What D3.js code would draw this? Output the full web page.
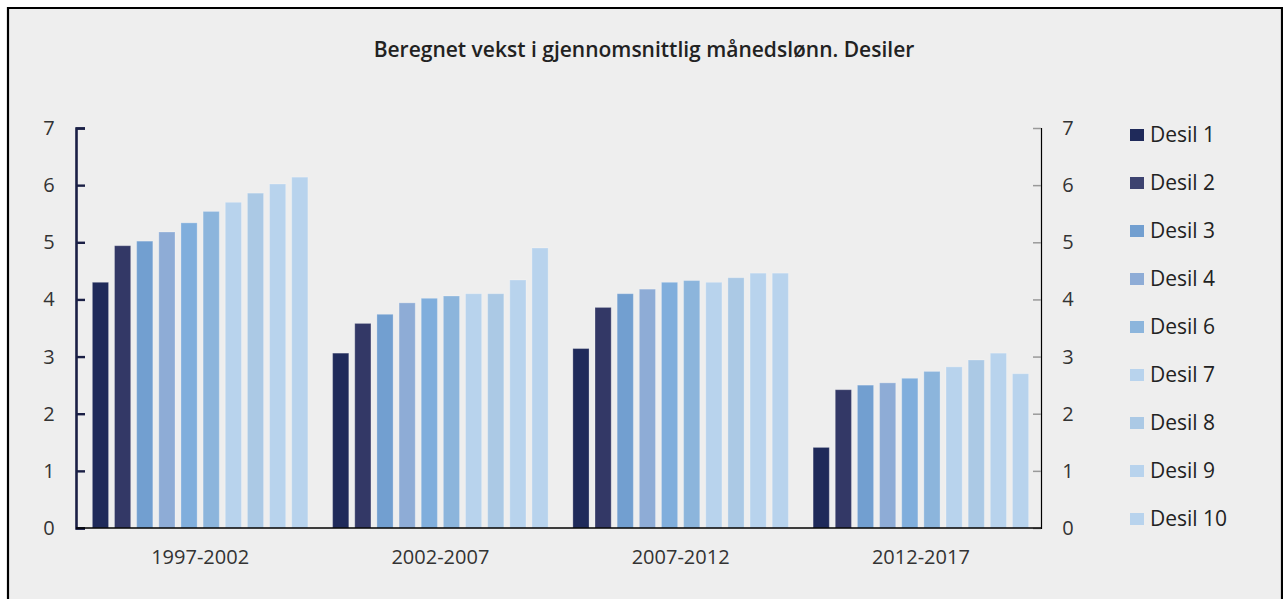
<!DOCTYPE html>
<html>
<head>
<meta charset="utf-8">
<script src="https://cdn.jsdelivr.net/npm/d3@7"></script>
<style>
  html, body { margin: 0; padding: 0; background: #ffffff; }
  svg { display: block; }
  text { font-family: "Open Sans", "Noto Sans", sans-serif; }
</style>
</head>
<body>
<svg id="chart" width="1283" height="599"></svg>
<script>
// Periods on the x axis
const periods = ["1997-2002", "2002-2007", "2007-2012", "2012-2017"];

// Decile series names
const deciles = ["Desil 1", "Desil 2", "Desil 3", "Desil 4", "Desil 5",
                 "Desil 6", "Desil 7", "Desil 8", "Desil 9", "Desil 10"];

// Growth per decile, one array per period (percent)
const values1997 = [4.30, 4.94, 5.02, 5.18, 5.34, 5.54, 5.70, 5.86, 6.02, 6.14];
const values2002 = [3.06, 3.58, 3.74, 3.94, 4.02, 4.06, 4.10, 4.10, 4.34, 4.90];
const values2007 = [3.14, 3.86, 4.10, 4.18, 4.30, 4.33, 4.30, 4.38, 4.46, 4.46];
const values2012 = [1.41, 2.42, 2.50, 2.54, 2.62, 2.74, 2.82, 2.94, 3.06, 2.70];

// Legend entries shown
const legendItems = ["Desil 1", "Desil 2", "Desil 3", "Desil 4", "Desil 6",
                     "Desil 7", "Desil 8", "Desil 9", "Desil 10"];

// Tick labels on both value axes
const yTicks = [0, 1, 2, 3, 4, 5, 6, 7];

const colors = {
  "Desil 1": "#1f2a5a",
  "Desil 2": "#333866",
  "Desil 3": "#729fd0",
  "Desil 4": "#8eacd6",
  "Desil 5": "#80aedc",
  "Desil 6": "#8cb5dc",
  "Desil 7": "#b8d3ed",
  "Desil 8": "#abc9e5",
  "Desil 9": "#b8d3ed",
  "Desil 10": "#b8d3ed"
};
const legendColors = Object.assign({}, colors, { "Desil 2": "#3d4370" });

const table = periods.map((p, i) => {
  const vals = [values1997, values2002, values2007, values2012][i];
  return { period: p, values: deciles.map((d, j) => ({ key: d, value: vals[j] })) };
});

const svg = d3.select("#chart");

// Panel background and frame
svg.append("rect").attr("x", 8).attr("y", 8).attr("width", 1274).attr("height", 600)
  .attr("fill", "#eeeeee");
svg.append("path")
  .attr("d", "M8,610 L8,8 L1282,8 L1282,610")
  .attr("fill", "none").attr("stroke", "#000").attr("stroke-width", 2.2);

// Title
svg.append("text")
  .attr("x", 644).attr("y", 57)
  .attr("text-anchor", "middle")
  .attr("font-size", 21).attr("font-weight", 600).attr("fill", "#222")
  .text("Beregnet vekst i gjennomsnittlig månedslønn. Desiler");

const axisLeftX = 76, plotRight = 1041, plotTop = 128, plotBottom = 528;

const x0 = d3.scaleBand().domain(periods).range([80, plotRight]).paddingInner(0.103).paddingOuter(0.0515);
const x1 = d3.scaleBand().domain(deciles).range([0, x0.bandwidth()]).paddingInner(0.27);
const y = d3.scaleLinear().domain([0, 7]).range([plotBottom, plotTop]);

// Bars
const groups = svg.append("g").selectAll("g").data(table).join("g")
  .attr("transform", d => `translate(${x0(d.period)},0)`);
groups.selectAll("rect").data(d => d.values).join("rect")
  .attr("x", d => x1(d.key))
  .attr("y", d => y(d.value))
  .attr("width", x1.bandwidth())
  .attr("height", d => y(0) - y(d.value))
  .attr("fill", d => colors[d.key])
  .attr("stroke", "#ffffff").attr("stroke-opacity", 0.25).attr("stroke-width", 1);

// Left value axis
const leftAxis = svg.append("g").attr("transform", `translate(${axisLeftX},0)`)
  .call(d3.axisRight(y).tickValues(yTicks).tickSize(9).tickFormat(""));
leftAxis.select(".domain").attr("stroke", "#1a1f45").attr("stroke-width", 2.6);
leftAxis.selectAll(".tick line").attr("stroke", "#1a1f45").attr("stroke-width", 2.4);
svg.append("g").selectAll("text").data(yTicks).join("text")
  .attr("x", 49).attr("y", d => y(d)).attr("dy", "0.35em")
  .attr("text-anchor", "middle").attr("font-size", 20).attr("fill", "#333")
  .text(d => d);

// Right value axis
const rightAxis = svg.append("g").attr("transform", `translate(${plotRight},0)`)
  .call(d3.axisLeft(y).tickValues(yTicks).tickSize(8).tickFormat(""));
rightAxis.select(".domain").attr("stroke", "#000").attr("stroke-width", 1.2);
rightAxis.selectAll(".tick line").attr("stroke", "#999").attr("stroke-width", 1.5);
svg.append("g").selectAll("text").data(yTicks).join("text")
  .attr("x", 1068).attr("y", d => y(d)).attr("dy", "0.35em")
  .attr("text-anchor", "middle").attr("font-size", 20).attr("fill", "#333")
  .text(d => d);

// Category axis
svg.append("line").attr("x1", axisLeftX).attr("x2", plotRight).attr("y1", plotBottom).attr("y2", plotBottom)
  .attr("stroke", "#000").attr("stroke-width", 1.5);
svg.append("g").selectAll("text").data(periods).join("text")
  .attr("x", d => x0(d) + x0.bandwidth() / 2).attr("y", 557).attr("dy", "0.35em")
  .attr("text-anchor", "middle").attr("font-size", 20).attr("fill", "#333")
  .text(d => d);

// Legend
const legend = svg.append("g").selectAll("g").data(legendItems).join("g")
  .attr("transform", (d, i) => `translate(1130,${135 + i * 48})`);
legend.append("rect").attr("x", 0).attr("y", -6).attr("width", 14).attr("height", 12)
  .attr("fill", d => legendColors[d]);
legend.append("text").attr("x", 20).attr("y", 0).attr("dy", "0.35em")
  .attr("font-size", 21).attr("fill", "#222").text(d => d);
</script>
</body>
</html>
